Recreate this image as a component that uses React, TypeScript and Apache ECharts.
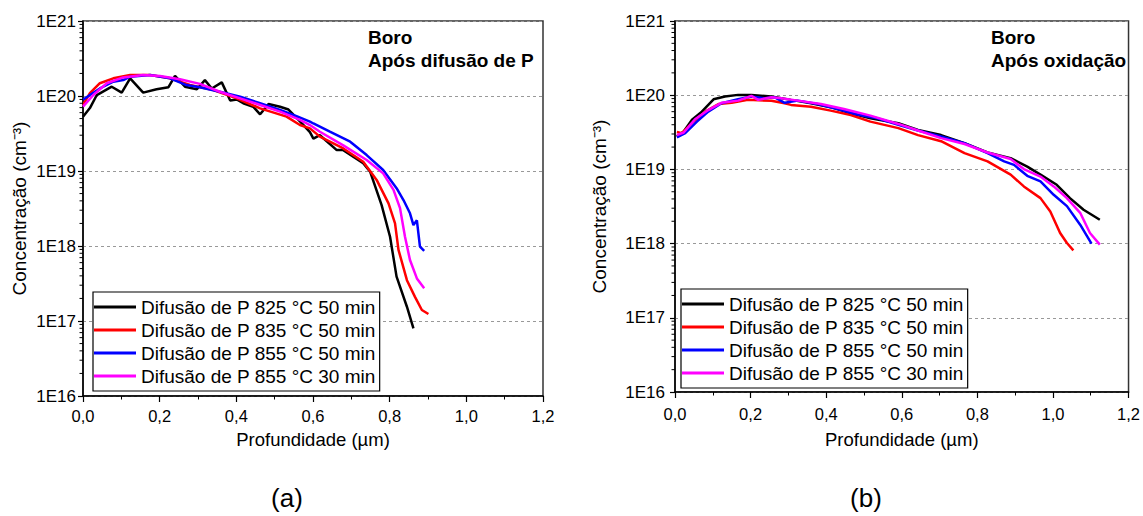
import React, { useEffect, useRef } from "react";
import * as echarts from "echarts";

const seriesNames = [
  "Difusão de P 825 °C 50 min",
  "Difusão de P 835 °C 50 min",
  "Difusão de P 855 °C 50 min",
  "Difusão de P 855 °C 30 min",
];
const seriesColors = ["#000000", "#ff0000", "#0000ff", "#ff00ff"];

// Panel (a): Boro após difusão de P — [profundidade µm, concentração cm^-3]
const a825_50: number[][] = [
  [0, 5.3e19], [0.018, 6.9e19], [0.036, 1.03e20], [0.075, 1.33e20], [0.101, 1.11e20],
  [0.123, 1.72e20], [0.157, 1.11e20], [0.192, 1.23e20], [0.223, 1.31e20], [0.24, 1.85e20],
  [0.266, 1.33e20], [0.297, 1.23e20], [0.318, 1.63e20], [0.336, 1.26e20], [0.362, 1.52e20],
  [0.384, 8.7e19], [0.401, 9.0e19], [0.418, 8.0e19], [0.444, 7.2e19], [0.462, 5.7e19],
  [0.484, 7.8e19], [0.514, 7.2e19], [0.536, 6.6e19], [0.566, 4.6e19], [0.592, 3.3e19],
  [0.601, 2.7e19], [0.618, 3.0e19], [0.662, 1.9e19], [0.679, 1.9e19], [0.731, 1.27e19],
  [0.749, 9.8e18], [0.779, 3.5e18], [0.801, 1.33e18], [0.818, 3.9e17], [0.845, 1.55e17],
  [0.862, 8e16],
];
const a835_50: number[][] = [
  [0, 7.6e19], [0.018, 1.09e20], [0.044, 1.48e20], [0.079, 1.72e20], [0.123, 1.9e20],
  [0.175, 1.9e20], [0.227, 1.72e20], [0.279, 1.4e20], [0.34, 1.2e20], [0.401, 9.3e19],
  [0.462, 6.85e19], [0.531, 5.3e19], [0.566, 4.1e19], [0.592, 3.7e19], [0.618, 2.87e19],
  [0.679, 2.0e19], [0.731, 1.33e19], [0.766, 7.6e18], [0.797, 3.7e18], [0.814, 2.0e18],
  [0.823, 8.9e17], [0.845, 3.5e17], [0.866, 2.1e17], [0.884, 1.4e17], [0.901, 1.24e17],
];
const a855_50: number[][] = [
  [0, 8.9e19], [0.018, 1.03e20], [0.044, 1.26e20], [0.079, 1.55e20], [0.105, 1.63e20],
  [0.123, 1.81e20], [0.175, 1.9e20], [0.227, 1.72e20], [0.27, 1.4e20], [0.305, 1.31e20],
  [0.357, 1.14e20], [0.41, 9.8e19], [0.462, 8.0e19], [0.514, 6.5e19], [0.557, 5.4e19],
  [0.592, 4.55e19], [0.601, 4.3e19], [0.644, 3.34e19], [0.697, 2.46e19], [0.74, 1.63e19],
  [0.783, 1.03e19], [0.818, 5.9e18], [0.836, 4.1e18], [0.853, 2.73e18], [0.862, 1.9e18],
  [0.871, 2.2e18], [0.879, 9.8e17], [0.89, 8.6e17],
];
const a855_30: number[][] = [
  [0, 7.2e19], [0.027, 1.03e20], [0.062, 1.48e20], [0.105, 1.77e20], [0.157, 1.9e20],
  [0.201, 1.85e20], [0.253, 1.67e20], [0.305, 1.45e20], [0.357, 1.14e20], [0.41, 9.3e19],
  [0.462, 7.6e19], [0.514, 6.2e19], [0.566, 4.8e19], [0.592, 4.1e19], [0.618, 3.34e19],
  [0.679, 2.2e19], [0.74, 1.4e19], [0.783, 9.3e18], [0.81, 5.6e18], [0.827, 3.2e18],
  [0.84, 1.33e18], [0.853, 6.5e17], [0.871, 3.7e17], [0.89, 2.73e17],
];

// Panel (b): Boro após oxidação
const b825_50: number[][] = [
  [0.005, 2.77e19], [0.023, 3.24e19], [0.045, 4.66e19], [0.071, 6.0e19], [0.102, 8.8e19],
  [0.132, 9.6e19], [0.167, 1.01e20], [0.202, 1.01e20], [0.255, 9.6e19], [0.307, 8.65e19],
  [0.36, 7.8e19], [0.412, 6.9e19], [0.465, 5.7e19], [0.517, 4.9e19], [0.591, 4.2e19],
  [0.643, 3.4e19], [0.704, 2.9e19], [0.766, 2.26e19], [0.827, 1.69e19], [0.888, 1.42e19],
  [0.932, 1.09e19], [0.967, 8.5e18], [1.01, 6.2e18], [1.045, 4.1e18], [1.081, 2.86e18],
  [1.124, 2.1e18],
];
const b835_50: number[][] = [
  [0.005, 3.2e19], [0.018, 3.08e19], [0.045, 4.2e19], [0.08, 6.0e19], [0.115, 7.6e19],
  [0.15, 7.9e19], [0.193, 8.65e19], [0.255, 8.4e19], [0.29, 7.8e19], [0.307, 7.4e19],
  [0.36, 7.0e19], [0.412, 6.2e19], [0.465, 5.4e19], [0.517, 4.4e19], [0.591, 3.6e19],
  [0.643, 2.9e19], [0.704, 2.4e19], [0.766, 1.66e19], [0.827, 1.28e19], [0.888, 8.5e18],
  [0.923, 5.9e18], [0.967, 4.1e18], [0.993, 2.7e18], [1.019, 1.39e18], [1.037, 1.02e18],
  [1.054, 8.1e17],
];
const b855_50: number[][] = [
  [0.005, 2.7e19], [0.027, 3.08e19], [0.058, 4.4e19], [0.088, 6.0e19], [0.123, 7.8e19],
  [0.167, 8.8e19], [0.202, 9.6e19], [0.237, 9.1e19], [0.263, 9.4e19], [0.29, 7.9e19],
  [0.325, 8.45e19], [0.377, 7.6e19], [0.43, 6.5e19], [0.482, 5.5e19], [0.535, 4.9e19],
  [0.591, 4.0e19], [0.643, 3.34e19], [0.704, 2.77e19], [0.766, 2.26e19], [0.827, 1.66e19],
  [0.871, 1.28e19], [0.897, 1.15e19], [0.932, 8.2e18], [0.967, 6.9e18], [1.002, 4.55e18],
  [1.037, 3.2e18], [1.072, 1.8e18], [1.102, 1.0e18],
];
const b855_30: number[][] = [
  [0.005, 2.9e19], [0.023, 3.14e19], [0.053, 4.75e19], [0.088, 6.3e19], [0.123, 7.9e19],
  [0.167, 8.45e19], [0.202, 9.8e19], [0.22, 8.65e19], [0.255, 9.4e19], [0.281, 9.1e19],
  [0.325, 8.45e19], [0.386, 7.6e19], [0.447, 6.5e19], [0.517, 5.3e19], [0.591, 4.1e19],
  [0.643, 3.34e19], [0.704, 2.64e19], [0.766, 2.2e19], [0.827, 1.69e19], [0.888, 1.38e19],
  [0.923, 1.01e19], [0.967, 8.0e18], [1.002, 5.9e18], [1.037, 4.1e18], [1.072, 2.6e18],
  [1.098, 1.39e18], [1.124, 9.7e17],
];

const panelA = [a825_50, a835_50, a855_50, a855_30];
const panelB = [b825_50, b835_50, b855_50, b855_30];

const xMin = 0;
const xMax = 1.2;
const xInterval = 0.2;
const yMin = 1e16;
const yMax = 1e21;
const decades = [16, 17, 18, 19, 20];
const minorMultipliers = [2, 3, 4, 5, 6, 7, 8, 9];

const FONT = "'Liberation Sans', Arial, Helvetica, sans-serif";

export default function App() {
  const ref = useRef<HTMLDivElement>(null);

  useEffect(() => {
    if (!ref.current) return;
    const chart = echarts.init(ref.current, null, { renderer: "svg" });

    const minorVals: number[][] = [];
    decades.forEach((d) =>
      minorMultipliers.forEach((m) => minorVals.push([0, m * Math.pow(10, d)]))
    );

    const grids = [
      { left: 83, top: 21, width: 460, height: 375 },
      { left: 675, top: 21, width: 457, height: 371 },
    ];

    const mkX = (idx: number, nameGap: number, labelMargin: number) => ({
      type: "value",
      gridIndex: idx,
      min: xMin,
      max: xMax,
      interval: xInterval,
      name: "Profundidade (µm)",
      nameLocation: "middle",
      nameGap,
      nameTextStyle: { fontSize: 18.5, color: "#000", fontFamily: FONT, verticalAlign: "top" },
      axisLine: { show: true, onZero: false, lineStyle: { color: "#000", width: 1.5 } },
      axisTick: { show: true, inside: false, length: 6, lineStyle: { color: "#000", width: 1.2 } },
      minorTick: { show: true, splitNumber: 2, length: 3.5, lineStyle: { color: "#000", width: 1 } },
      axisLabel: {
        fontSize: 16.5,
        color: "#000",
        fontFamily: FONT,
        margin: labelMargin,
        formatter: (v: number) => v.toFixed(1).replace(".", ","),
      },
      splitLine: { show: false },
    });

    const mkY = (idx: number, nameGap: number, labelMargin: number) => ({
      type: "log",
      logBase: 10,
      gridIndex: idx,
      min: yMin,
      max: yMax,
      splitNumber: 5,
      name: "Concentração (cm⁻³)",
      nameLocation: "middle",
      nameGap,
      nameTextStyle: { fontSize: 19, color: "#000", fontFamily: FONT },
      axisLine: { show: true, onZero: false, lineStyle: { color: "#000", width: 1.5 } },
      axisTick: { show: true, inside: false, length: 5, lineStyle: { color: "#000", width: 1.2 } },
      axisLabel: {
        fontSize: 17,
        color: "#000",
        fontFamily: FONT,
        margin: labelMargin,
        formatter: (v: number) => "1E" + Math.round(Math.log10(v)),
      },
      splitLine: { show: true, lineStyle: { color: "#999", type: [3, 3], width: 1 } },
    });

    const lineSeries = (panel: number[][][], idx: number) =>
      panel.map((data, i) => ({
        type: "line",
        name: seriesNames[i],
        xAxisIndex: idx,
        yAxisIndex: idx,
        data,
        symbol: "none",
        showSymbol: false,
        color: seriesColors[i],
        lineStyle: { color: seriesColors[i], width: 2.5 },
        z: 3,
      }));

    const minorTickSeries = (idx: number) => ({
      type: "custom",
      name: "minor" + idx,
      xAxisIndex: idx,
      yAxisIndex: idx,
      data: minorVals,
      clip: false,
      silent: true,
      z: 10,
      renderItem: (_p: any, api: any) => {
        const pt = api.coord([api.value(0), api.value(1)]);
        return {
          type: "line",
          shape: { x1: pt[0] - 3.5, y1: pt[1], x2: pt[0], y2: pt[1] },
          style: { stroke: "#000", lineWidth: 1 },
        };
      },
    });

    const mkLegend = (left: number, top: number) => ({
      data: seriesNames.map((n) => ({ name: n, icon: "rect" })),
      orient: "vertical",
      left,
      top,
      itemWidth: 42,
      itemHeight: 3,
      itemGap: 1,
      padding: [4, 4, 4, 1],
      borderColor: "#000",
      borderWidth: 1.2,
      backgroundColor: "#fff",
      selectedMode: false,
      textStyle: { fontSize: 19, lineHeight: 22, color: "#000", fontFamily: FONT },
    });

    const txt = (x: number, y: number, s: string, size: number, bold: boolean, align = "left", va = "top") => ({
      type: "text",
      x,
      y,
      z: 20,
      style: {
        text: s,
        fill: "#000",
        fontSize: size,
        fontWeight: bold ? "bold" : "normal",
        fontFamily: FONT,
        align,
        verticalAlign: va,
      },
    });

    chart.setOption({
      animation: false,
      backgroundColor: "#fff",
      grid: grids.map((g) => ({
        ...g,
        show: true,
        borderColor: "#333",
        borderWidth: 1.5,
        backgroundColor: "transparent",
        containLabel: false,
      })),
      xAxis: [mkX(0, 34, 11), mkX(1, 38, 13)],
      yAxis: [mkY(0, 54, 7), mkY(1, 66, 10)],
      legend: [mkLegend(93, 292), mkLegend(681, 289)],
      series: [
        ...lineSeries(panelA, 0),
        ...lineSeries(panelB, 1),
        minorTickSeries(0),
        minorTickSeries(1),
      ],
      graphic: [
        txt(368, 28, "Boro", 19, true),
        txt(368, 51, "Após difusão de P", 19, true),
        txt(991, 28, "Boro", 19, true),
        txt(991, 51, "Após oxidação", 19, true),
        txt(287, 498, "(a)", 26, false, "center", "middle"),
        txt(866, 498, "(b)", 26, false, "center", "middle"),
      ],
    });

    return () => chart.dispose();
  }, []);

  return (
    <div
      ref={ref}
      style={{ position: "fixed", left: 0, top: 0, width: 1143, height: 516, background: "#fff" }}
    />
  );
}
